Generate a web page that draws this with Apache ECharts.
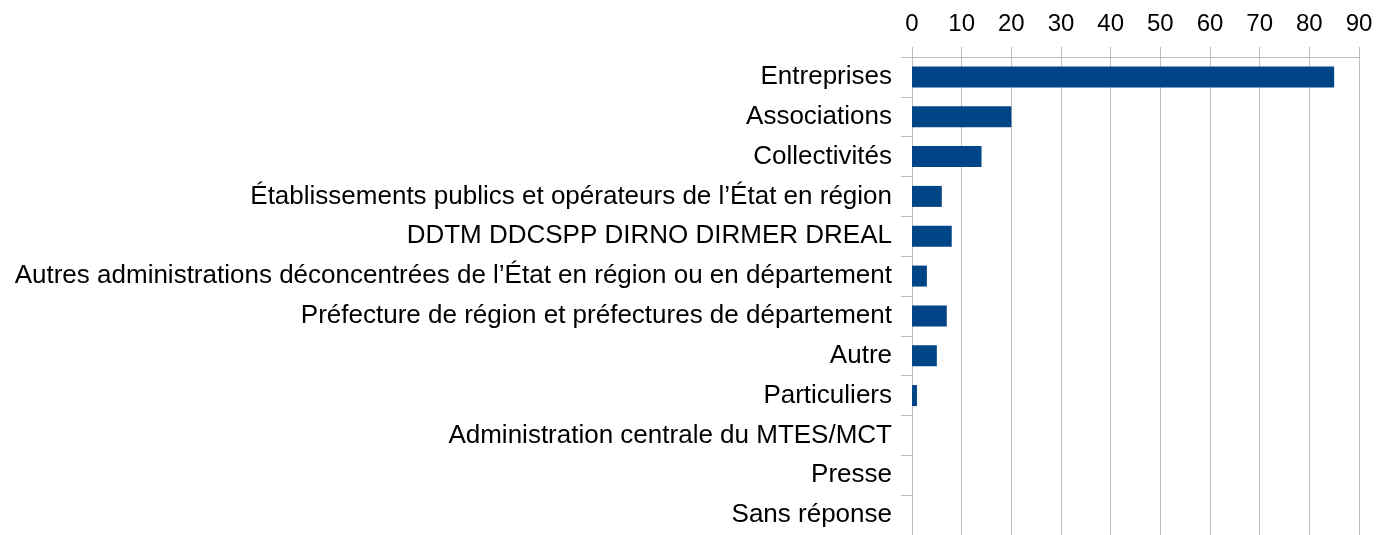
<!DOCTYPE html>
<html>
<head>
<meta charset="utf-8">
<script src="https://cdn.jsdelivr.net/npm/echarts@6/dist/echarts.min.js"></script>
<style>
  html, body { margin: 0; padding: 0; background: #fff; }
  #main { width: 1379px; height: 535px; }
</style>
</head>
<body>
<div id="main"></div>
<script>
// catégories, de haut en bas
const categories = [
  'Entreprises',
  'Associations',
  'Collectivités',
  'Établissements publics et opérateurs de l’État en région',
  'DDTM DDCSPP DIRNO DIRMER DREAL',
  'Autres administrations déconcentrées de l’État en région ou en département',
  'Préfecture de région et préfectures de département',
  'Autre',
  'Particuliers',
  'Administration centrale du MTES/MCT',
  'Presse',
  'Sans réponse'
];
const values = [85, 20, 14, 6, 8, 3, 7, 5, 1, 0, 0, 0];

const gridColor = '#bdbdbd';
const font = 'Liberation Sans, Arial, sans-serif';

const chart = echarts.init(document.getElementById('main'));

const option = {
  animation: false,
  grid: {
    left: 912,
    right: 20,
    top: 57,
    bottom: -7
  },
  xAxis: {
    type: 'value',
    position: 'top',
    min: 0,
    max: 90,
    interval: 10,
    axisLine: { show: true, lineStyle: { color: gridColor, width: 1 } },
    axisTick: { show: true, length: 10, lineStyle: { color: gridColor } },
    splitLine: { show: true, lineStyle: { color: gridColor, width: 1 } },
    axisLabel: {
      color: '#000',
      fontFamily: font,
      fontSize: 24,
      margin: 21
    }
  },
  yAxis: {
    type: 'category',
    data: categories,
    inverse: true,
    axisLine: { show: true, lineStyle: { color: gridColor, width: 1 } },
    axisTick: { show: true, length: 11, alignWithLabel: false, lineStyle: { color: gridColor } },
    axisLabel: {
      color: '#000',
      fontFamily: font,
      fontSize: 26,
      margin: 20,
      padding: [4, 0, 0, 0]
    }
  },
  series: [{
    type: 'bar',
    data: values,
    barWidth: 21,
    itemStyle: { color: '#004586' }
  }]
};
chart.setOption(option);
</script>
</body>
</html>
